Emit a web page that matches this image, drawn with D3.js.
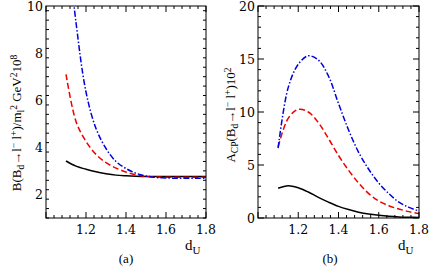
<!DOCTYPE html>
<html>
<head>
<meta charset="utf-8">
<script src="https://cdn.jsdelivr.net/npm/d3@7"></script>
<style>
  body { margin: 0; background: #fff; }
  svg text { font-family: 'Liberation Serif', 'Times New Roman', Times, serif; }
  svg text.tick-label { font-family: 'DejaVu Serif', serif; font-size: 12.5px; }
  .axis-title { font-size: 13px; }
</style>
</head>
<body>
<div id="chart"></div>
<script>
// d_U values shared by every curve
var dU = [1.1, 1.15, 1.2, 1.25, 1.3, 1.35, 1.4, 1.45, 1.5, 1.55, 1.6, 1.65, 1.7, 1.75, 1.8];

// panel (a): branching ratio / m_l^2 x 10^8
var brBlack = [3.42, 3.2, 3.07, 2.96, 2.88, 2.82, 2.79, 2.77, 2.76, 2.76, 2.76, 2.76, 2.76, 2.76, 2.76];
var brRed   = [7.1, 5.1, 4.25, 3.7, 3.35, 3.12, 2.95, 2.83, 2.77, 2.74, 2.73, 2.73, 2.73, 2.73, 2.73];
var brBlue  = [13.2, 9.3, 6.35, 4.8, 3.95, 3.4, 3.1, 2.9, 2.78, 2.72, 2.7, 2.69, 2.69, 2.69, 2.69];

// panel (b): A_CP x 10^2
var cpBlack = [2.8, 3.05, 2.85, 2.45, 1.95, 1.5, 1.1, 0.8, 0.55, 0.37, 0.25, 0.16, 0.1, 0.07, 0.05];
var cpRed   = [6.7, 9.4, 10.25, 10.0, 9.0, 7.5, 5.9, 4.5, 3.3, 2.3, 1.6, 1.15, 0.85, 0.6, 0.42];
var cpBlue  = [6.6, 12.3, 14.5, 15.3, 14.9, 13.4, 10.8, 8.3, 6.2, 4.6, 3.3, 2.3, 1.5, 1.0, 0.66];

var xTicks = [1.2, 1.4, 1.6, 1.8];

var svg = d3.select('#chart').append('svg')
    .attr('width', 429)
    .attr('height', 268);

// Draw one panel: frame, ticks on all four sides, clipped curves
const drawPanel = (props) => {
  const {id, left, right, top, bottom, yDomain, yMajor, yMinor, series, yTitle, tag, tagX} = props;

  const x = d3.scaleLinear().domain([1.0, 1.8]).range([left, right]);
  const y = d3.scaleLinear().domain(yDomain).range([bottom, top]);

  const g = svg.append('g').attr('id', id);

  g.append('clipPath').attr('id', id + '-clip')
    .append('rect')
      .attr('x', left).attr('y', top)
      .attr('width', right - left).attr('height', bottom - top);

  // curves
  const line = d3.line()
      .x(d => x(d[0]))
      .y(d => y(d[1]))
      .curve(d3.curveCatmullRom.alpha(0.5));

  series.forEach(s => {
    g.append('path')
        .datum(dU.map((d, i) => [d, s.values[i]]))
        .attr('clip-path', `url(#${id}-clip)`)
        .attr('fill', 'none')
        .attr('stroke', s.color)
        .attr('stroke-width', 1.5)
        .attr('stroke-dasharray', s.dash)
        .attr('d', line);
  });

  // ticks on all sides, pointing inwards
  const xMinor = d3.range(1.0, 1.8001, 0.04);
  const yMinorVals = d3.range(yDomain[0], yDomain[1] + 1e-6, yMinor);
  const isMajorX = v => Math.abs(v / 0.2 - Math.round(v / 0.2)) < 1e-6;
  const tk = g.append('g').attr('stroke', '#000').attr('stroke-width', 1);

  xMinor.forEach(v => {
    const len = isMajorX(v) ? 6 : 3;
    tk.append('line').attr('x1', x(v)).attr('x2', x(v)).attr('y1', bottom).attr('y2', bottom - len);
    tk.append('line').attr('x1', x(v)).attr('x2', x(v)).attr('y1', top).attr('y2', top + len);
  });
  yMinorVals.forEach(v => {
    const major = Math.abs(v / yMajor - Math.round(v / yMajor)) < 1e-6;
    const len = major ? 6 : 3;
    tk.append('line').attr('x1', left).attr('x2', left + len).attr('y1', y(v)).attr('y2', y(v));
    tk.append('line').attr('x1', right).attr('x2', right - len).attr('y1', y(v)).attr('y2', y(v));
  });

  g.append('rect')
      .attr('x', left).attr('y', top)
      .attr('width', right - left).attr('height', bottom - top)
      .attr('fill', 'none')
      .attr('stroke', '#000')
      .attr('stroke-width', 1);

  // tick labels
  g.selectAll('.xl').data(xTicks).join('text')
      .attr('class', 'tick-label')
      .attr('x', d => x(d))
      .attr('y', bottom + 16)
      .attr('text-anchor', 'middle')
      .text(d => d.toFixed(1));

  const yLabels = d3.range(yDomain[0], yDomain[1] + 1e-6, yMajor)
      .map(v => Math.round(v / yMajor) * yMajor)
      .filter(v => v > 0 || yDomain[0] === 0);
  g.selectAll('.yl').data(yLabels).join('text')
      .attr('class', 'tick-label')
      .attr('x', left - 3)
      .attr('y', d => y(d) + 4.5)
      .attr('text-anchor', 'end')
      .text(d => d);

  // x title d_U
  const xt = g.append('text')
      .attr('class', 'axis-title')
      .attr('x', right - 21)
      .attr('y', bottom + 32)
      .style('font-size', '15px');
  xt.append('tspan').text('d');
  xt.append('tspan').attr('dy', 4).style('font-size', '11px').text('U');

  // panel tag
  g.append('text')
      .attr('class', 'axis-title')
      .attr('x', tagX)
      .attr('y', 263)
      .attr('text-anchor', 'middle')
      .text(tag);

  // rotated y title built from pieces
  const yt = g.append('text')
      .attr('class', 'axis-title')
      .attr('transform', `translate(${yTitle.x}, ${yTitle.cy}) rotate(-90)`)
      .attr('text-anchor', 'middle');
  yTitle.parts.forEach(p => {
    const ts = yt.append('tspan').text(p.t);
    if (p.sub) ts.attr('baseline-shift', '-30%').style('font-size', '9.5px');
    if (p.sup) ts.attr('baseline-shift', '45%').style('font-size', '9.5px');
  });
};

drawPanel({
  id: 'pa', left: 46, right: 206, top: 6, bottom: 218,
  yDomain: [1, 10], yMajor: 2, yMinor: 0.4,
  series: [
    {values: brBlack, color: '#000', dash: null},
    {values: brRed, color: '#e00', dash: '6,3'},
    {values: brBlue, color: '#00d', dash: '6,2,1.5,2'}
  ],
  yTitle: {x: 21, cy: 123, parts: [
    {t: 'B(B'}, {t: 'd', sub: true}, {t: '\u2192l'}, {t: '\u2212', sup: true}, {t: ' l'}, {t: '+', sup: true},
    {t: ')/m'}, {t: 'l', sub: true}, {t: '2', sup: true}, {t: ' GeV'}, {t: '2', sup: true}, {t: '10'}, {t: '8', sup: true}
  ]},
  tag: '(a)', tagX: 126
});

drawPanel({
  id: 'pb', left: 258, right: 419, top: 6, bottom: 218,
  yDomain: [0, 20], yMajor: 5, yMinor: 1,
  series: [
    {values: cpBlack, color: '#000', dash: null},
    {values: cpRed, color: '#e00', dash: '6,3'},
    {values: cpBlue, color: '#00d', dash: '6,2,1.5,2'}
  ],
  yTitle: {x: 235, cy: 115, parts: [
    {t: 'A'}, {t: 'CP', sub: true}, {t: '(B'}, {t: 'd', sub: true}, {t: '\u2192l'}, {t: '\u2212', sup: true},
    {t: ' l'}, {t: '+', sup: true}, {t: ')10'}, {t: '2', sup: true}
  ]},
  tag: '(b)', tagX: 330
});
</script>
</body>
</html>
